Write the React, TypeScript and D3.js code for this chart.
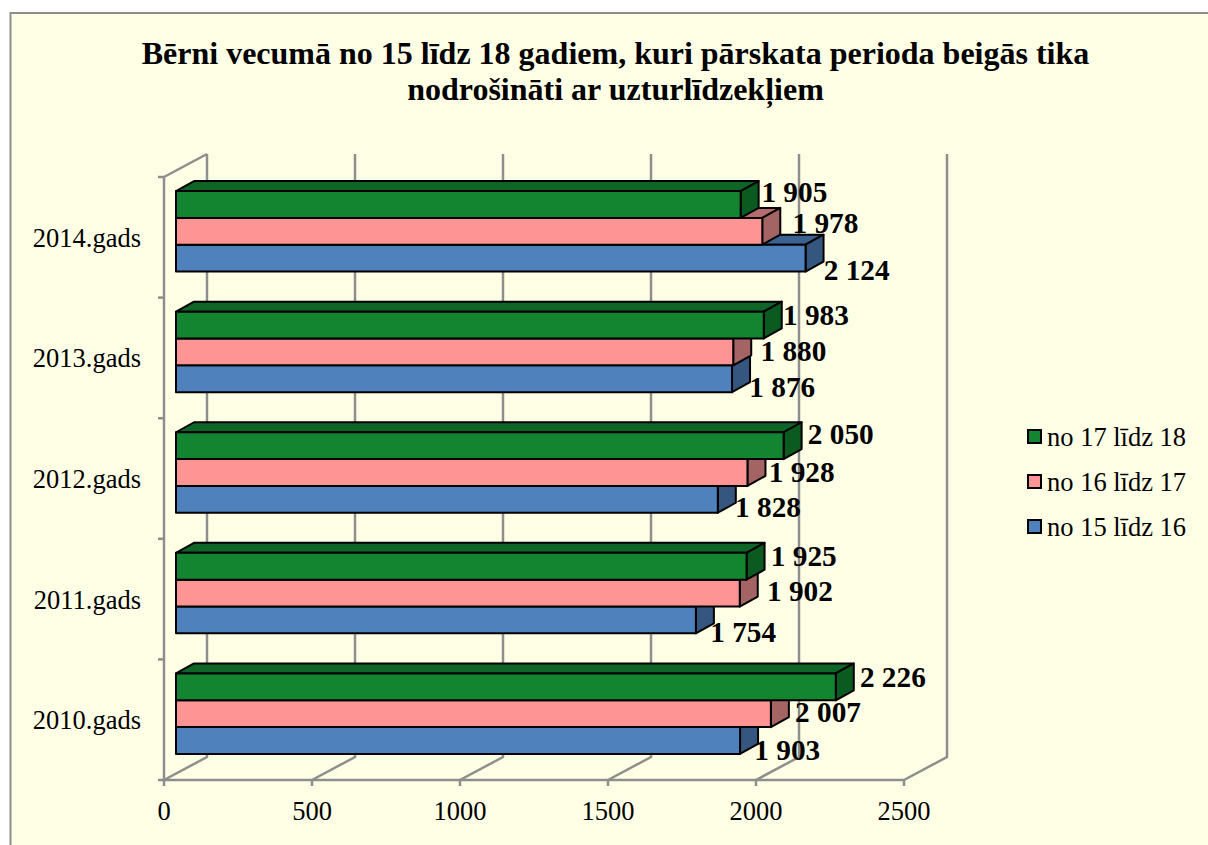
import React from "react";
import * as d3 from "d3";

const categories = ["2010.gads", "2011.gads", "2012.gads", "2013.gads", "2014.gads"];
const seriesNames = ["no 15 līdz 16", "no 16 līdz 17", "no 17 līdz 18"];
const age15 = [1903, 1754, 1828, 1876, 2124];
const age16 = [2007, 1902, 1928, 1880, 1978];
const age17 = [2226, 1925, 2050, 1983, 1905];
const xTicks = [0, 500, 1000, 1500, 2000, 2500];
const titleLines = [
  "Bērni vecumā no 15 līdz 18 gadiem, kuri pārskata perioda beigās tika",
  "nodrošināti ar uzturlīdzekļiem",
];

// Hand placement of the data labels relative to the bar end: [category][series] = [dx, dy]
const labelNudge: [number, number][][] = [
  [[-3, 10], [7, -1], [7, -9]],
  [[-3, 13], [10, -1], [7, -9]],
  [[0, 9], [4, 0], [7, -11]],
  [[0, 9], [10, 0], [2, -9]],
  [[1, 13], [13, -7], [3.5, -11]],
];

const FONT = "'Liberation Serif', 'Times New Roman', serif";
const colors = [
  { front: "#4F81BD", top: "#3B6290", side: "#34567F" },
  { front: "#FF9494", top: "#B56C6C", side: "#A56464" },
  { front: "#138530", top: "#0F6526", side: "#0B5A20" },
];
const GRID = "#8E8E8E";
const values = [age15, age16, age17];

const floorY = 780;
const ceilY = 177;
const wallDX = 43;
const wallDY = -23;
const barInsetY = -6;
const depthX = 18;
const depthY = -10;
const barsHeight = 80.5;

const x = d3.scaleLinear().domain([0, 2500]).range([164, 904]);
const xBar = d3.scaleLinear().domain([0, 2500]).range([176, 917]);
const y = d3.scaleBand<string>().domain(categories).range([floorY, ceilY]);
const barInner = d3.scaleBand<number>().domain([2, 1, 0]).range([0, barsHeight]);
const line = d3.line<[number, number]>();

export default function App() {
  const bw = y.bandwidth();
  const boundaries = d3.range(categories.length + 1).map((i) => floorY - i * bw);
  return (
    <svg
      width={1208}
      height={845}
      style={{ position: "absolute", left: 0, top: 0, background: "#fff" }}
    >
      <rect x={10.5} y={13} width={1300} height={900} fill="#FFFFE5" stroke={GRID} strokeWidth={2} />
      {titleLines.map((t, i) => (
        <text
          key={t}
          x={615.5}
          y={64 + i * 35.5}
          textAnchor="middle"
          fontFamily={FONT}
          fontWeight="bold"
          fontSize={32}
          fill="#000"
        >
          {t}
        </text>
      ))}

      {/* walls */}
      <g stroke={GRID} strokeWidth={2.5} fill="none">
        {xTicks.map((t) => (
          <g key={t}>
            <path d={line([[x(t), floorY], [x(t) + wallDX, floorY + wallDY], [x(t) + wallDX, ceilY + wallDY]])!} />
            <path d={line([[x(t), floorY], [x(t), floorY + 6]])!} />
          </g>
        ))}
        <path d={line([[x(0), ceilY], [x(0) + wallDX, ceilY + wallDY]])!} />
        <path d={line([[x(0), ceilY], [x(0), floorY], [x(2500), floorY]])!} />
        {boundaries.map((b) => (
          <path key={b} d={line([[x(0) - 6, b], [x(0), b]])!} />
        ))}
      </g>

      {/* bars */}
      {categories.map((c, ci) => {
        const bandTop = y(c)! + barInsetY + (bw - barsHeight) / 2;
        return (
          <g key={c}>
            {seriesNames.map((_, si) => {
              const v = values[si][ci];
              const x0 = xBar(0);
              const x1 = xBar(v);
              const y0 = bandTop + barInner(si)!;
              const h = barInner.bandwidth();
              const col = colors[si];
              return (
                <g key={si} stroke="#000" strokeWidth={2} strokeLinejoin="round">
                  <path
                    d={line([[x0, y0], [x0 + depthX, y0 + depthY], [x1 + depthX, y0 + depthY], [x1, y0]])! + "Z"}
                    fill={col.top}
                  />
                  <path
                    d={line([[x1, y0], [x1 + depthX, y0 + depthY], [x1 + depthX, y0 + h + depthY], [x1, y0 + h]])! + "Z"}
                    fill={col.side}
                  />
                  <rect x={x0} y={y0} width={x1 - x0} height={h} fill={col.front} />
                </g>
              );
            })}
          </g>
        );
      })}

      {/* data labels */}
      {categories.map((c, ci) => {
        const bandTop = y(c)! - 6 + (bw - barsHeight) / 2;
        return seriesNames.map((_, si) => {
          const v = values[si][ci];
          const [dx, dy] = labelNudge[ci][si];
          const label = d3.format(",")(v).replace(",", " ");
          return (
            <text
              key={c + si}
              x={x(v) + 30 + dx}
              y={bandTop + barInner(si)! + barInner.bandwidth() / 2 + dy + 9}
              fontFamily={FONT}
              fontWeight="bold"
              fontSize={29.3}
              fill="#000"
            >
              {label}
            </text>
          );
        });
      })}

      {/* category labels */}
      {categories.map((c) => (
        <text
          key={c}
          x={141}
          y={y(c)! + bw / 2 + 9.5}
          textAnchor="end"
          fontFamily={FONT}
          fontSize={26.5}
          fill="#000"
        >
          {c}
        </text>
      ))}

      {/* value labels */}
      {xTicks.map((t) => (
        <text
          key={t}
          x={x(t)}
          y={820}
          textAnchor="middle"
          fontFamily={FONT}
          fontSize={26.5}
          fill="#000"
        >
          {t}
        </text>
      ))}

      {/* legend */}
      {[2, 1, 0].map((si, i) => (
        <g key={si}>
          <rect
            x={1028}
            y={430 + i * 45}
            width={13}
            height={13}
            fill={colors[si].front}
            stroke="#000"
            strokeWidth={2}
          />
          <text x={1047} y={445.5 + i * 45} fontFamily={FONT} fontSize={26.5} fill="#000">
            {seriesNames[si]}
          </text>
        </g>
      ))}
    </svg>
  );
}
